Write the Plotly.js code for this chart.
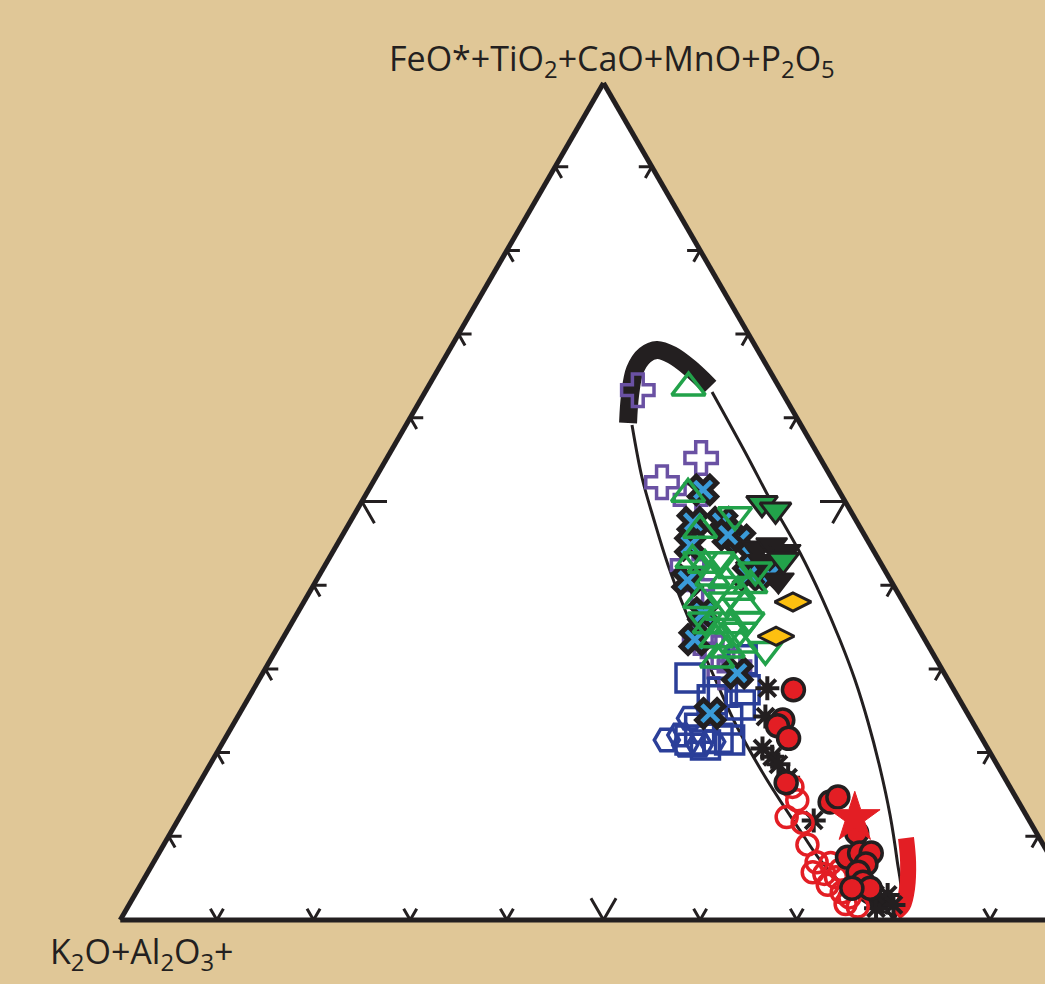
<!DOCTYPE html>
<html>
<head>
<meta charset="utf-8">
<script src="https://cdn.plot.ly/plotly-3.0.1.min.js"></script>
<style>
  html, body { margin: 0; padding: 0; overflow: hidden; background: #e0c797; }
  #chart { width: 1207px; height: 984px; }
</style>
</head>
<body>
<div id="chart"></div>
<script>
// Ternary compositions in %: A = FeO*+TiO2+CaO+MnO+P2O5 (top apex),
// C = right apex, B (K2O+Al2O3+...) is the remainder to 100.

// Open crosses (purple)
const crossA = [63.3, 55.2, 52.3, 50.2, 42.4, 40.0, 33.7, 32.0, 29.6, 30.3];
const crossC = [21.9, 32.5, 29.9, 33.9, 37.5, 39.7, 43.1, 45.8, 47.7, 48.4];

// Open up-triangles (green)
const triUpA = [63.6, 50.9, 43.0, 42.4, 40.9, 40.6, 39.2, 37.6, 36.8, 35.2, 33.5, 32.3, 32.9, 31.1, 38.2, 41.8, 40.0, 35.2, 46.6];
const triUpC = [27.0, 33.3, 37.7, 39.3, 40.8, 42.3, 44.3, 45.8, 43.9, 45.7, 44.9, 46.7, 47.7, 46.2, 40.9, 42.7, 45.2, 43.4, 36.7];

// Open down-triangles (green)
const triDnA = [48.4, 43.0, 35.8, 32.3, 38.2, 43.0, 34.6, 35.8, 41.8];
const triDnC = [39.4, 38.5, 47.0, 50.6, 43.5, 40.3, 46.8, 42.6, 44.8];

// Filled down-triangles (green, black rim)
const triGrA = [49.8, 49.0, 43.0];
const triGrC = [41.5, 43.3, 47.1];

// Filled down-triangles (black)
const triBkA = [44.4, 44.8, 44.0, 40.6, 42.8];
const triBkC = [43.7, 45.0, 46.8, 47.8, 45.1];

// Crosses (blue with black rim)
const xA = [51.4, 47.5, 47.5, 45.4, 43.5, 41.2, 44.8, 36.7, 33.5, 24.7, 29.5, 40.6, 41.2, 46.0];
const xC = [34.6, 35.5, 38.5, 41.4, 43.6, 46.6, 36.6, 42.0, 42.7, 48.7, 49.1, 38.4, 44.4, 39.9];

// Diamonds (yellow)
const diaA = [38.0, 33.9];
const diaC = [50.6, 50.9];

// Open squares (navy)
const sqA = [28.9, 31.1, 27.5, 27.2, 25.7, 23.9, 22.9, 21.7, 20.9, 26.3, 21.5, 21.5];
const sqC = [44.5, 48.8, 50.9, 48.7, 51.3, 50.9, 48.5, 51.0, 50.1, 48.1, 48.2, 52.3];

// Open hexagons (navy)
const hexA = [21.5, 22.1, 24.1, 20.9, 21.3, 20.9];
const hexC = [45.8, 46.9, 46.9, 49.5, 50.6, 48.0];

// Asterisks (black)
const astA = [27.7, 24.3, 20.5, 19.5, 18.6, 17.0, 11.9, 2.2, 3.0, 1.8, 1.4, 3.0];
const astC = [53.1, 54.6, 56.2, 57.7, 58.8, 60.6, 65.8, 77.5, 77.9, 79.1, 77.5, 76.6];

// Filled circles (red, black rim)
const dotA = [27.5, 23.9, 23.2, 21.7, 16.4, 14.1, 14.7, 10.4, 7.5, 8.0, 8.0, 6.7, 5.7, 4.5, 3.8, 3.8];
const dotC = [55.9, 56.6, 56.4, 58.3, 60.7, 66.4, 66.9, 71.0, 71.5, 72.5, 73.7, 73.8, 73.5, 74.6, 75.7, 73.8];

// Open circles (red)
const ringA = [15.9, 14.3, 12.3, 11.6, 9.0, 6.9, 5.7, 5.5, 6.8, 5.1, 3.3, 2.7, 1.6, 1.9, 4.2, 6.0];
const ringC = [61.6, 62.9, 62.8, 64.8, 66.6, 68.6, 68.8, 70.1, 70.1, 71.5, 73.0, 74.1, 75.5, 74.1, 71.1, 71.5];

// Star (red)
const starA = [12.2];
const starC = [69.9];

// Trend envelope: thin loop, thick black head, thick red tail
const loopA = [63.08, 55.91, 49.58, 43.85, 38.47, 33.45, 28.67, 23.66, 18.16, 12.54, 7.17, 2.99, 0.72,
               1.08, 2.39, 4.54, 7.17, 10.15, 16.73, 23.06, 29.63, 37.04, 42.41, 47.79, 52.81, 59.14];
const loopC = [29.69, 36.69, 42.75, 48.42, 53.37, 57.74, 61.69, 65.54, 69.53, 73.38, 76.79, 79.30, 79.81,
               78.28, 75.56, 72.20, 68.83, 65.57, 58.56, 52.29, 46.41, 39.92, 35.47, 31.33, 27.59, 23.38];
const headA = [59.38, 62.72, 65.71, 67.50, 68.10, 67.50, 65.95, 63.68];
const headC = [22.85, 21.39, 20.40, 20.55, 21.49, 23.34, 25.97, 29.18];
const tailA = [9.80, 6.93, 3.82, 1.79, 0.84];
const tailC = [76.40, 78.05, 79.50, 80.09, 79.75];

// Tick positions along each edge
const tickValues = [10, 20, 30, 40, 50, 60, 70, 80, 90];

const INK = '#231f20';
const W = 1207, H = 984;
const M = { l: 0, r: 0, t: 83, b: 64 };

function curve(a, c, color, width) {
  return {
    type: 'scatterternary', mode: 'lines', a: a, c: c,
    line: { color: color, width: width, shape: 'spline', smoothing: 1 },
    hoverinfo: 'skip'
  };
}

function markers(a, c, symbol, size, color, lineColor, lineWidth) {
  return {
    type: 'scatterternary', mode: 'markers', a: a, c: c, cliponaxis: false,
    marker: { symbol: symbol, size: size, color: color,
              line: { color: lineColor, width: lineWidth } },
    hoverinfo: 'skip'
  };
}

// Two short inward arms (along the two grid directions) at every tick
const tA = [], tB = [], tC = [];
function arm(p1, p0, p2) {
  [p1, p0, p2].forEach(p => { tA.push(p[0]); tB.push(p[1]); tC.push(p[2]); });
  tA.push(null); tB.push(null); tC.push(null);
}
tickValues.forEach(t => {
  const L = t === 50 ? 2.6 : 1.35;
  arm([t, 100 - t - L, L], [t, 100 - t, 0], [t - L, 100 - t, L]);          // left edge
  arm([L, 100 - t, t - L], [0, 100 - t, t], [L, 100 - t - L, t]);          // bottom edge
  arm([t, L, 100 - t - L], [t, 0, 100 - t], [t - L, L, 100 - t]);          // right edge
});

const ticks = {
  type: 'scatterternary', mode: 'lines', a: tA, b: tB, c: tC,
  line: { color: INK, width: 3 }, connectgaps: false, hoverinfo: 'skip'
};

const GREEN = '#22a24a', NAVY = '#2b3f99', RED = '#e31e24';

const data = [
  ticks,
  curve(loopA, loopC, INK, 3),
  curve(headA, headC, INK, 18),
  curve(tailA, tailC, RED, 16),
  markers(crossA, crossC, 'cross-open', 27, '#6a51a3', '#6a51a3', 3.5),
  markers(sqA, sqC, 'square-open', 28, NAVY, NAVY, 3.5),
  markers(hexA, hexC, 'hexagon2-open', 25, NAVY, NAVY, 3.5),
  markers(xA, xC, 'x', 24, '#3a9bd8', INK, 5),
  markers(triBkA, triBkC, 'triangle-down', 27, INK, INK, 2),
  markers(triGrA, triGrC, 'triangle-down', 27, GREEN, INK, 3),
  markers(triUpA, triUpC, 'triangle-up-open', 29, GREEN, GREEN, 3.5),
  markers(triDnA, triDnC, 'triangle-down-open', 29, GREEN, GREEN, 3.5),
  markers(diaA, diaC, 'diamond-wide', 26, '#fdc010', INK, 3),
  markers(astA, astC, 'asterisk-open', 20, INK, INK, 4),
  markers(ringA, ringC, 'circle-open', 21, RED, RED, 3.5),
  markers(dotA, dotC, 'circle', 22, RED, INK, 3.5),
  markers(starA, starC, 'star', 38, RED, RED, 1)
];

const axisStyle = {
  min: 0, showline: true, linewidth: 5, linecolor: INK,
  showgrid: false, ticks: '', showticklabels: false, title: { text: '' }
};

// paper coordinates from pixel offsets within the figure
const px2x = px => px / W;
const py2y = py => 1 - (py - M.t) / (H - M.t - M.b);
const labelFont = { family: 'Open Sans, sans-serif', size: 34, color: INK };

const layout = {
  width: W, height: H, margin: M,
  paper_bgcolor: '#e0c797',
  showlegend: false,
  hovermode: false,
  ternary: {
    sum: 100, bgcolor: '#ffffff',
    domain: { x: [0, 1], y: [0, 1] },
    aaxis: axisStyle, baxis: axisStyle, caxis: axisStyle
  },
  annotations: [
    { text: 'FeO*+TiO<sub>2</sub>+CaO+MnO+P<sub>2</sub>O<sub>5</sub>',
      xref: 'paper', yref: 'paper', x: px2x(612), y: py2y(60),
      xanchor: 'center', yanchor: 'middle', showarrow: false, font: labelFont },
    { text: 'K<sub>2</sub>O+Al<sub>2</sub>O<sub>3</sub>+',
      xref: 'paper', yref: 'paper', x: px2x(142), y: py2y(953),
      xanchor: 'center', yanchor: 'middle', showarrow: false, font: labelFont }
  ]
};

Plotly.newPlot('chart', data, layout, { staticPlot: true });
</script>
</body>
</html>
